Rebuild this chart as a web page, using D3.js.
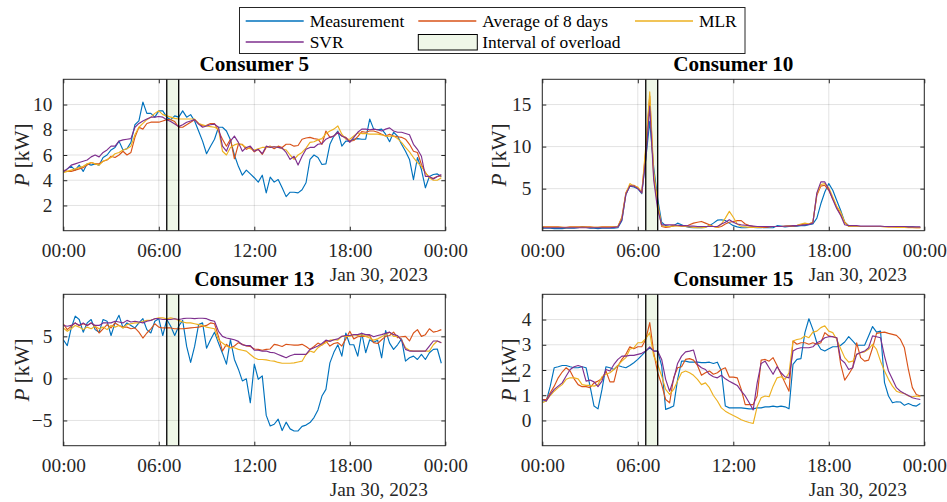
<!DOCTYPE html>
<html>
<head>
<meta charset="UTF-8">
<title>Consumers forecast</title>
<script src="https://cdn.jsdelivr.net/npm/d3@7"></script>
<style>
body { margin: 0; background: #fff; }
svg text { font-family: "Liberation Serif", "Times New Roman", serif; }
</style>
</head>
<body>
<script>
// 15 minute samples, Jan 30 2023, 00:00 .. 23:45
var c5_meas = [4.6,4.9,5.1,4.8,5.2,4.7,5.3,5.2,5.3,5.2, 5.8,6.0,6.4,6.6,7.1,6.4,6.5,7.0,8.4,8.7, 10.2,9.3,9.3,9.0,9.5,9.5,9.0,8.8,9.1,9.0, 9.5,9.0,9.2,8.7,7.9,7.1,6.1,6.7,7.25,8.2, 8.2,7.9,7.2,6.0,5.1,4.4,4.8,4.5,4.2,3.85, 4.4,3.0,4.25,3.85,4.05,3.4,2.7,3.05,3.05,3.0, 3.25,3.8,5.65,6.0,5.8,5.25,5.3,6.85,7.5,7.9, 6.7,7.1,7.1,7.25,7.3,7.25,7.25,8.85,8.05,8.0, 8.05,7.65,7.05,7.8,7.5,6.85,6.3,5.65,4.05,5.8, 4.85,3.4,4.3,4.45,4.5,4.3];
var c5_avg = [4.8,4.7,4.7,4.8,4.9,5.0,5.2,5.4,5.3,5.3, 5.5,5.6,5.9,5.8,6.0,6.3,6.0,6.2,7.4,8.2, 8.05,8.5,8.6,8.6,8.6,8.7,8.8,8.8,8.65,8.2, 8.2,8.4,8.6,8.8,8.5,8.3,8.35,8.5,8.5,7.9, 7.25,6.7,7.25,5.7,6.85,6.85,6.45,6.6,6.25,6.45, 6.05,6.6,6.7,6.5,6.7,6.6,6.85,6.85,6.7,6.75, 7.25,7.35,7.4,7.3,7.25,6.85,7.9,7.4,7.5,7.8, 7.5,7.4,7.1,7.15,7.45,7.85,7.8,7.9,7.9,7.8, 7.65,7.5,7.65,7.5,7.45,7.4,7.25,6.85,6.3,6.2, 5.25,4.6,4.2,4.15,4.3,4.35];
var c5_mlr = [4.6,4.7,4.8,4.9,5.0,5.1,5.3,5.4,5.3,5.2, 5.5,5.65,5.8,6.1,6.2,6.4,6.5,6.7,7.6,8.2, 8.5,8.8,9.0,9.3,9.5,9.2,9.1,9.0,8.9,8.85, 8.85,8.85,8.85,8.85,8.5,8.4,8.3,8.25,8.2,8.05, 6.3,6.0,6.6,6.8,6.9,6.8,6.6,6.5,6.4,6.5, 6.6,6.6,6.65,6.65,6.6,6.5,6.4,6.0,5.65,6.0, 6.2,6.55,7.0,7.05,7.2,7.3,7.7,7.9,8.05,8.3, 7.65,7.25,7.25,7.5,7.75,7.7,7.7,7.65,7.65,7.65, 7.6,7.5,7.5,7.5,7.3,7.0,6.6,6.25,5.8,5.4, 5.1,4.6,4.2,4.0,4.0,4.2];
var c5_svr = [4.7,4.9,5.2,5.3,5.4,5.5,5.6,5.85,6.0,5.85, 6.2,6.4,6.7,6.7,7.1,7.2,7.25,7.3,8.2,8.5, 8.7,8.85,9.0,9.0,9.05,9.0,8.8,8.65,8.45,8.25, 8.4,8.6,8.7,8.8,8.45,8.2,8.3,8.4,8.45,8.2, 6.7,6.3,7.1,7.5,7.0,6.3,6.6,6.7,6.3,6.45, 6.1,6.7,6.6,6.65,6.6,6.55,6.2,5.65,5.9,5.2, 5.9,6.45,6.6,6.6,6.85,6.9,7.25,7.4,7.5,7.8, 7.5,7.35,7.0,7.4,7.8,8.05,8.05,8.0,8.05,8.0, 7.9,8.05,8.15,7.9,7.8,7.8,7.7,7.6,6.85,6.45, 5.9,4.3,4.3,4.1,4.3,4.45];

var c10_meas = [0.3,0.3,0.3,0.25,0.25,0.25,0.3,0.3,0.3,0.35, 0.45,0.4,0.3,0.3,0.25,0.3,0.3,0.3,0.3,0.35, 1.2,4.3,5.3,5.2,5.0,4.4,8.5,13.0,7.5,3.8, 1.0,0.6,0.5,0.6,0.9,0.7,0.5,0.4,0.35,0.35, 0.35,0.4,0.6,0.9,1.25,1.3,1.2,0.9,0.6,0.45, 0.35,0.35,0.4,0.4,0.35,0.35,0.4,0.35,0.35,0.6, 0.55,0.45,0.5,0.5,0.55,0.6,0.6,0.7,0.8,1.5, 3.2,4.6,5.6,4.8,3.6,2.4,1.0,0.6,0.55,0.5, 0.5,0.5,0.5,0.5,0.5,0.5,0.5,0.5,0.5,0.5, 0.5,0.45,0.45,0.45,0.4,0.4];
var c10_avg = [0.45,0.45,0.45,0.45,0.45,0.4,0.4,0.45,0.45,0.45, 0.45,0.45,0.45,0.4,0.4,0.45,0.45,0.45,0.45,0.5, 1.6,4.5,5.4,5.4,5.1,4.6,9.5,16.0,6.5,3.0, 0.5,0.4,0.45,0.6,0.6,0.55,0.5,0.7,0.9,1.0, 1.1,0.9,0.7,0.5,0.4,0.5,0.8,1.0,1.1,1.2, 1.2,0.8,0.6,0.5,0.4,0.4,0.4,0.45,0.5,0.5, 0.5,0.5,0.55,0.55,0.6,0.7,0.8,0.8,1.0,4.2, 5.3,5.4,4.8,3.8,2.8,1.9,1.0,0.55,0.5,0.5, 0.5,0.5,0.5,0.5,0.5,0.5,0.5,0.45,0.45,0.45, 0.45,0.4,0.4,0.4,0.35,0.35];
var c10_mlr = [0.4,0.4,0.4,0.4,0.4,0.4,0.35,0.4,0.4,0.4, 0.4,0.4,0.4,0.4,0.4,0.4,0.4,0.4,0.45,0.5, 1.5,4.4,5.6,5.3,5.2,4.5,10.0,16.5,7.0,3.2, 0.6,0.5,0.5,0.55,0.6,0.55,0.5,0.45,0.4,0.35, 0.35,0.4,0.6,0.5,0.4,0.8,1.5,2.3,1.6,0.8, 0.5,0.45,0.4,0.4,0.4,0.45,0.5,0.5,0.5,0.5, 0.5,0.55,0.6,0.6,0.65,0.8,0.9,0.8,1.0,4.4, 5.5,5.6,5.1,4.0,2.9,2.2,1.0,0.5,0.5,0.5, 0.5,0.5,0.5,0.5,0.5,0.5,0.45,0.45,0.45,0.4, 0.4,0.4,0.35,0.35,0.35,0.35];
var c10_svr = [0.35,0.35,0.35,0.35,0.35,0.35,0.35,0.35,0.35,0.35, 0.35,0.35,0.35,0.35,0.35,0.35,0.35,0.35,0.4,0.45, 1.3,4.3,5.3,5.3,5.0,4.5,8.5,14.8,6.0,2.5, 0.7,0.7,0.7,0.7,0.65,0.6,0.6,0.55,0.55,0.5, 0.5,0.5,0.5,0.5,0.5,0.8,1.0,1.3,1.0,0.8, 0.7,0.65,0.6,0.55,0.5,0.5,0.5,0.5,0.5,0.5, 0.5,0.55,0.55,0.6,0.6,0.65,0.7,0.75,0.9,4.5, 5.8,5.8,4.9,3.7,2.6,1.8,0.7,0.6,0.6,0.6, 0.55,0.55,0.55,0.55,0.55,0.55,0.5,0.5,0.5,0.5, 0.5,0.5,0.45,0.45,0.45,0.45];

var c13_meas = [4.6,3.9,6.0,7.4,7.0,5.5,6.6,7.0,5.8,5.5, 7.0,6.8,5.1,6.6,7.5,6.0,6.6,6.3,6.0,6.6, 7.1,5.8,5.4,6.8,7.1,5.1,7.0,6.2,5.1,6.2, 6.9,3.8,1.9,3.8,6.4,6.6,3.6,4.6,5.5,4.2, 3.0,1.7,4.6,2.25,1.1,-0.3,-0.05,-2.9,1.7,-0.1, 0.3,-4.4,-5.65,-5.45,-4.85,-6.2,-5.2,-6.0,-6.25,-6.25, -5.7,-5.55,-5.25,-4.65,-3.75,-2.1,-1.3,1.85,3.1,4.0, 2.65,5.4,4.0,4.0,2.65,5.4,3.05,4.6,4.3,4.55, 2.45,5.7,4.2,3.45,4.0,4.7,2.05,2.45,2.65,2.25, 2.85,2.25,3.05,3.45,3.5,1.8];
var c13_avg = [6.5,5.8,6.2,6.6,6.3,6.5,6.3,6.6,6.2,5.4, 5.9,6.4,6.0,6.6,6.3,6.1,6.1,5.9,6.0,5.5, 4.8,5.4,5.9,6.5,6.1,6.0,6.0,6.0,5.9,5.9, 5.9,5.95,6.0,6.05,6.1,6.2,6.3,6.6,6.5,5.0, 3.25,4.05,3.65,3.85,4.25,4.05,3.85,3.8,3.5,3.45, 3.35,3.45,3.5,4.05,3.95,3.8,4.05,4.0,3.95,3.95, 4.05,3.8,3.45,3.8,4.2,3.95,4.45,3.85,4.15,4.25, 3.85,4.7,5.6,4.7,4.95,5.0,5.0,5.1,4.25,4.15, 4.6,5.0,5.1,5.5,4.85,4.95,5.0,4.45,5.4,5.8, 5.0,5.2,5.9,5.5,5.6,5.8];
var c13_mlr = [6.0,5.6,5.9,6.3,6.1,5.8,6.1,5.9,6.2,5.9, 6.1,5.8,6.3,6.1,6.3,6.0,6.4,6.5,6.6,6.6, 6.8,6.9,6.9,7.1,7.2,7.2,7.1,7.2,7.1,6.9, 6.7,6.6,6.6,6.5,6.4,6.3,6.1,6.0,5.9,4.6, 4.2,3.85,3.65,3.65,3.45,3.35,3.25,2.85,2.45,2.25, 2.25,2.2,2.1,2.05,1.9,1.8,1.8,1.8,1.85,1.95, 2.05,2.85,3.25,3.1,3.65,4.0,4.25,4.55,4.6,4.55, 5.0,5.0,5.0,5.2,5.1,5.2,5.0,4.8,4.55,4.7, 4.95,5.2,5.5,5.0,5.0,4.6,3.65,3.35,3.25,3.25, 3.25,3.25,3.25,4.0,4.45,4.25];
var c13_svr = [6.3,6.2,6.3,6.6,6.3,6.6,6.3,6.6,6.3,6.3, 6.6,6.6,6.6,6.8,6.7,6.6,6.9,6.7,6.8,6.7, 6.6,6.8,6.9,7.1,7.1,7.0,7.0,7.0,7.1,7.0, 7.1,7.15,7.15,7.1,7.15,7.15,7.1,6.9,6.8,5.6, 5.0,4.8,4.7,4.6,4.4,4.0,3.9,3.9,3.35,3.35, 3.25,3.25,3.1,3.05,2.85,2.65,2.45,2.7,2.85,2.85, 2.85,2.85,3.45,3.65,3.85,4.15,4.55,4.4,4.6,4.7, 5.0,5.1,5.1,5.2,5.2,5.35,5.2,5.2,4.95,5.1, 5.2,5.35,5.5,5.2,5.1,4.55,3.45,3.25,3.25,3.25, 3.25,3.25,3.85,4.45,4.45,4.25];

var c15_meas = [0.77,0.77,1.36,2.09,2.13,2.18,2.18,2.13,2.09,2.09, 2.13,2.09,1.36,0.57,0.46,1.23,2.13,2.09,2.02,2.18, 2.13,2.09,2.18,2.29,2.42,2.58,2.75,2.88,2.75,2.75, 2.16,0.44,0.5,0.57,1.63,2.35,2.35,2.31,2.31,2.31, 2.29,2.29,2.31,2.26,2.31,1.96,0.57,0.5,0.5,0.5, 0.5,0.48,0.46,0.46,0.5,0.5,0.54,0.54,0.57,0.54, 0.57,0.54,0.46,2.22,2.42,2.45,3.48,4.03,3.61,3.08, 2.82,2.75,2.84,2.92,2.92,2.98,3.11,3.32,3.15,2.98, 2.98,2.98,3.35,3.72,3.5,3.54,1.5,0.97,0.7,0.74, 0.73,0.6,0.67,0.6,0.57,0.67];
var c15_avg = [0.83,0.83,1.1,1.36,1.69,1.92,2.09,1.96,1.65,1.42, 1.34,1.34,1.3,1.49,1.56,1.65,1.96,1.53,1.53,2.16, 2.42,2.62,2.92,2.84,2.92,2.92,3.21,3.88,2.69,1.89, 1.42,0.83,0.7,1.69,2.09,2.13,2.42,2.45,2.39,2.18, 1.79,1.89,1.96,1.83,1.89,2.02,2.09,1.72,1.72,1.69, 1.23,0.63,0.63,0.63,0.97,2.39,2.42,2.35,2.49,2.18, 1.83,1.49,1.16,3.15,3.02,3.08,3.08,3.02,3.08,3.02, 3.08,3.48,3.35,3.32,3.28,2.22,1.6,1.83,2.09,3.08, 2.49,2.35,2.39,2.88,3.45,3.48,3.5,3.45,3.41,3.37, 3.21,2.88,2.02,1.3,1.03,0.97];
var c15_mlr = [0.7,0.77,0.99,1.16,1.3,1.42,1.63,1.69,1.69,1.65, 1.42,1.39,1.39,1.36,1.42,1.73,1.83,1.89,2.02,2.18, 2.35,2.49,2.82,2.88,3.08,3.08,3.24,3.48,2.55,2.22, 1.76,1.23,1.03,1.23,1.56,1.89,1.96,1.89,1.79,1.63, 1.42,1.49,1.3,0.99,0.77,0.5,0.37,0.28,0.2,0.12, 0.03,-0.03,-0.08,-0.12,0.55,0.9,0.97,0.94,1.36,1.69, 1.73,1.63,1.89,3.15,3.21,3.24,3.35,3.28,3.5,3.54, 3.68,3.75,3.54,3.48,3.21,2.84,2.49,2.31,2.35,2.62, 2.69,2.72,2.82,3.02,2.82,2.35,1.96,1.63,1.36,1.16, 1.1,1.07,0.97,0.94,0.97,0.94];
var c15_svr = [0.83,0.77,1.03,1.23,1.36,1.49,1.76,2.02,2.13,2.18, 2.13,1.56,1.6,1.53,1.34,1.56,2.02,1.96,2.22,2.42, 2.55,2.55,2.58,2.58,2.62,2.66,2.75,2.92,2.75,2.75, 2.42,1.63,1.16,1.63,2.26,2.55,2.72,2.75,2.79,2.22, 2.09,2.02,1.83,1.73,1.69,1.79,1.65,1.55,1.47,1.39, 1.16,0.97,0.7,0.42,1.49,2.26,2.35,2.09,1.83,2.13, 1.89,1.73,1.69,2.75,2.84,2.88,2.88,2.88,2.92,3.08, 3.15,3.28,3.32,3.32,3.28,2.42,2.29,2.02,2.09,2.62, 2.69,2.75,2.88,3.35,3.32,3.28,2.55,1.96,1.63,1.3, 1.16,1.07,0.99,0.9,0.86,0.83];

var series_names = ["Measurement", "Average of 8 days", "MLR", "SVR"];
var series_colors = ["#0072BD", "#D95319", "#EDB120", "#7E2F8E"];
var overload = [[6, 30], [7, 15]];       // interval of overload, hh:mm
var x_ticks_h = [0, 6, 12, 18, 24];
var date_label = "Jan 30, 2023";

var day0 = new Date(2023, 0, 30);
var day1 = new Date(2023, 0, 31);
var times = d3.range(96).map(function(i){ return d3.timeMinute.offset(day0, 15 * i); });

var panels = [
    {title: "Consumer 5",  left: 63.3,  top: 79.3,  ydom: [0, 12], yticks: [2, 4, 6, 8, 10], ylab: 42, data: [c5_meas, c5_avg, c5_mlr, c5_svr]},
    {title: "Consumer 10", left: 542.3, top: 79.3,  ydom: [0, 18], yticks: [5, 10, 15],      ylab: 44, data: [c10_meas, c10_avg, c10_mlr, c10_svr]},
    {title: "Consumer 13", left: 63.3,  top: 294.3, ydom: [-8, 10], yticks: [-5, 0, 5],      ylab: 42, data: [c13_meas, c13_avg, c13_mlr, c13_svr]},
    {title: "Consumer 15", left: 542.3, top: 294.3, ydom: [-1, 5], yticks: [0, 1, 2, 3, 4],  ylab: 34, data: [c15_meas, c15_avg, c15_mlr, c15_svr]}
];
var W = 382, H = 151.4;
var axisColor = "#262626";
var serif = "'Liberation Serif', 'Times New Roman', serif";

var svg = d3.select("body").append("svg")
    .attr("width", 947)
    .attr("height", 502);

function draw_panel(p, k){
    var g = svg.append("g").attr("transform", "translate(" + p.left + "," + p.top + ")");
    var x = d3.scaleTime().domain([day0, day1]).range([0, W]);
    var y = d3.scaleLinear().domain(p.ydom).range([H, 0]);
    var xt = x_ticks_h.map(function(h){ return d3.timeHour.offset(day0, h); });

    g.append("clipPath").attr("id", "clip" + k)
        .append("rect").attr("width", W).attr("height", H);

    // overload band
    var t0 = d3.timeMinute.offset(day0, overload[0][0] * 60 + overload[0][1]);
    var t1 = d3.timeMinute.offset(day0, overload[1][0] * 60 + overload[1][1]);
    g.append("rect")
        .attr("x", x(t0)).attr("y", 0)
        .attr("width", x(t1) - x(t0)).attr("height", H)
        .attr("fill", "#eff7e8");

    // grid
    g.selectAll(".gx").data(xt).enter().append("line")
        .attr("x1", function(d){ return x(d); }).attr("x2", function(d){ return x(d); })
        .attr("y1", 0).attr("y2", H)
        .attr("stroke", axisColor).attr("stroke-opacity", 0.13);
    g.selectAll(".gy").data(p.yticks).enter().append("line")
        .attr("x1", 0).attr("x2", W)
        .attr("y1", function(d){ return y(d); }).attr("y2", function(d){ return y(d); })
        .attr("stroke", axisColor).attr("stroke-opacity", 0.13);

    // series
    var line = d3.line()
        .x(function(d, i){ return x(times[i]); })
        .y(function(d){ return y(d); });
    g.append("g").attr("clip-path", "url(#clip" + k + ")")
        .selectAll("path").data(p.data).enter().append("path")
        .attr("d", line)
        .attr("fill", "none")
        .attr("stroke", function(d, i){ return series_colors[i]; })
        .attr("stroke-width", 1.15)
        .attr("stroke-linejoin", "round");

    // band edges
    g.selectAll(".edge").data([t0, t1]).enter().append("line")
        .attr("x1", function(d){ return x(d); }).attr("x2", function(d){ return x(d); })
        .attr("y1", 0).attr("y2", H)
        .attr("stroke", "#000").attr("stroke-width", 1.3);

    // axes, ticks pointing inward
    var fmt = d3.timeFormat("%H:%M");
    var ax = g.append("g").attr("transform", "translate(0," + H + ")")
        .call(d3.axisBottom(x).tickValues(xt).tickFormat(fmt).tickSize(-4));
    ax.selectAll("text").attr("y", 26).attr("dy", 0);
    g.append("g").call(d3.axisTop(x).tickValues(xt).tickFormat("").tickSize(-4));
    var ay = g.append("g")
        .call(d3.axisLeft(y).tickValues(p.yticks).tickFormat(d3.format("d")).tickSize(-4));
    ay.selectAll("text").attr("x", -11);
    g.append("g").attr("transform", "translate(" + W + ",0)")
        .call(d3.axisRight(y).tickValues(p.yticks).tickFormat("").tickSize(-4));
    g.selectAll(".domain").remove();
    g.selectAll(".tick line").attr("stroke", axisColor);
    g.selectAll(".tick text")
        .attr("fill", axisColor)
        .style("font-family", serif)
        .style("font-size", "19.3px");

    g.append("rect")
        .attr("width", W).attr("height", H)
        .attr("fill", "none").attr("stroke", axisColor).attr("stroke-width", 1);

    // texts
    g.append("text")
        .attr("x", W / 2).attr("y", -8)
        .attr("text-anchor", "middle")
        .attr("font-weight", "bold").attr("font-size", 21.2)
        .attr("fill", "#000")
        .text(p.title);
    g.append("text")
        .attr("x", W - 17.5).attr("y", H + 50)
        .attr("text-anchor", "end").attr("font-size", 19.3)
        .attr("fill", axisColor)
        .text(date_label);
    var yl = g.append("text")
        .attr("transform", "translate(" + (-p.ylab) + "," + (H / 2) + ") rotate(-90)")
        .attr("text-anchor", "middle").attr("dy", "0.35em")
        .style("font-family", serif)
        .attr("font-size", 21.2).attr("fill", axisColor);
    yl.append("tspan").attr("font-style", "italic").text("P");
    yl.append("tspan").text(" [kW]");
}

panels.forEach(draw_panel);

// legend
function draw_legend(){
    var lg = svg.append("g");
    lg.append("rect")
        .attr("x", 239.5).attr("y", 7.5).attr("width", 505.5).attr("height", 46)
        .attr("fill", "#fff").attr("stroke", axisColor).attr("stroke-width", 1);
    var slots = [[245.7, 21], [418.3, 21], [635, 21], [245.7, 42]];
    series_names.forEach(function(name, i){
        var s = slots[i];
        lg.append("line")
            .attr("x1", s[0]).attr("x2", s[0] + 58)
            .attr("y1", s[1]).attr("y2", s[1])
            .attr("stroke", series_colors[i]).attr("stroke-width", 1.4);
        lg.append("text")
            .attr("x", s[0] + 64).attr("y", s[1] + 0.5).attr("dy", "0.33em")
            .attr("font-size", 17.4).attr("fill", "#000")
            .text(name);
    });
    lg.append("rect")
        .attr("x", 418.3).attr("y", 34.5).attr("width", 59).attr("height", 15.5)
        .attr("fill", "#eff7e8").attr("stroke", "#000").attr("stroke-width", 1);
    lg.append("text")
        .attr("x", 482.3).attr("y", 42.5).attr("dy", "0.33em")
        .attr("font-size", 17.4).attr("fill", "#000")
        .text("Interval of overload");
}
draw_legend();
</script>
</body>
</html>
